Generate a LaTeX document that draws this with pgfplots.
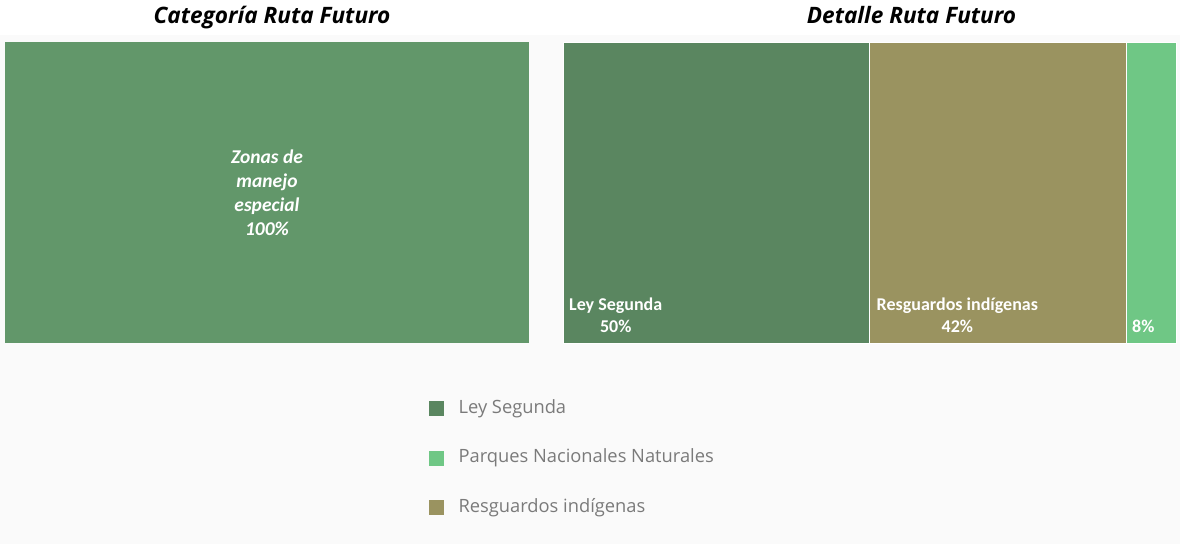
\documentclass[border=0pt]{standalone}
\usepackage{pgfplots}
\pgfplotsset{compat=1.18}
\usepackage{fontspec}
\setmainfont{Open Sans}
\newfontfamily\carlito{Carlito}
\definecolor{leftgreen}{HTML}{62976A}
\definecolor{ley}{HTML}{5A8660}
\definecolor{resg}{HTML}{9A9360}
\definecolor{parq}{HTML}{6FC785}
\definecolor{bg}{HTML}{FAFAFA}
\definecolor{legtext}{HTML}{7A7A7A}
\begin{document}
\begin{tikzpicture}[x=1pt,y=1pt]
\useasboundingbox (0,0) rectangle (1180,544);
\fill[bg] (0,0) rectangle (1180,509);
\begin{axis}[at={(5pt,201pt)}, anchor=south west, scale only axis,
  width=524pt, height=301pt, xmin=0, xmax=100, ymin=-0.5, ymax=0.5,
  hide axis, xbar, bar width=301pt, bar shift=0pt, clip=false,
  title={Categoría Ruta Futuro},
  title style={at={(0.5,1)}, anchor=base, yshift=13pt, xshift=5pt,
    font=\bfseries\itshape\fontsize{22.6}{26}\selectfont, inner sep=0pt}]
\addplot[fill=leftgreen, draw=none] coordinates {(100,0)};
\node[font=\carlito\bfseries\itshape\fontsize{19.5}{24}\selectfont, text=white, align=center]
  at (axis cs:50,0) {Zonas de\\manejo\\especial\\100\%};
\end{axis}
\begin{axis}[at={(563pt,201pt)}, anchor=south west, scale only axis,
  width=613pt, height=301pt, xmin=0, xmax=100, ymin=-0.5, ymax=0.5,
  hide axis, xbar stacked, bar width=301pt, bar shift=0pt, clip=false,
  title={Detalle Ruta Futuro},
  title style={at={(0.5,1)}, anchor=base, yshift=13pt, xshift=42pt,
    font=\bfseries\itshape\fontsize{22.6}{26}\selectfont, inner sep=0pt},
  legend style={at={(-0.2186,-0.1927)}, anchor=north west, draw=none, fill=none,
    inner sep=0pt, row sep=35pt, column sep=15pt,
    font=\fontsize{18.3}{21}\selectfont, text=legtext,
    nodes={inner sep=0pt, text height=12pt, text depth=2pt}},
  legend cell align=left]
\addplot[fill=ley, draw=white, line width=1pt, forget plot] coordinates {(50,0)};
\addplot[fill=resg, draw=white, line width=1pt, forget plot] coordinates {(42,0)};
\addplot[fill=parq, draw=white, line width=1pt, forget plot] coordinates {(8,0)};
\addlegendimage{legend image code/.code={\fill[ley] (0pt,-7pt) rectangle (14pt,7pt);}}
\addlegendentry{Ley Segunda}
\addlegendimage{legend image code/.code={\fill[parq] (0pt,-7pt) rectangle (14pt,7pt);}}
\addlegendentry{Parques Nacionales Naturales}
\addlegendimage{legend image code/.code={\fill[resg] (0pt,-7pt) rectangle (14pt,7pt);}}
\addlegendentry{Resguardos indígenas}
\end{axis}
\begin{axis}[at={(563pt,201pt)}, anchor=south west, scale only axis,
  width=613pt, height=301pt, xmin=0, xmax=100, ymin=-0.5, ymax=0.5,
  hide axis, clip=false]
\node[font=\carlito\bfseries\fontsize{18}{22.5}\selectfont, text=white, align=center,
  anchor=south west, inner sep=0pt, text depth=0pt, xshift=6pt, yshift=10pt] at (axis cs:0,-0.5) {Ley Segunda\\50\%};
\node[font=\carlito\bfseries\fontsize{18}{22.5}\selectfont, text=white, align=center,
  anchor=south west, inner sep=0pt, text depth=0pt, xshift=7pt, yshift=10pt] at (axis cs:50,-0.5) {Resguardos indígenas\\42\%};
\node[font=\carlito\bfseries\fontsize{18}{22.5}\selectfont, text=white, align=center,
  anchor=south west, inner sep=0pt, text depth=0pt, xshift=5pt, yshift=10pt] at (axis cs:92,-0.5) {8\%};
\end{axis}
\end{tikzpicture}
\end{document}
